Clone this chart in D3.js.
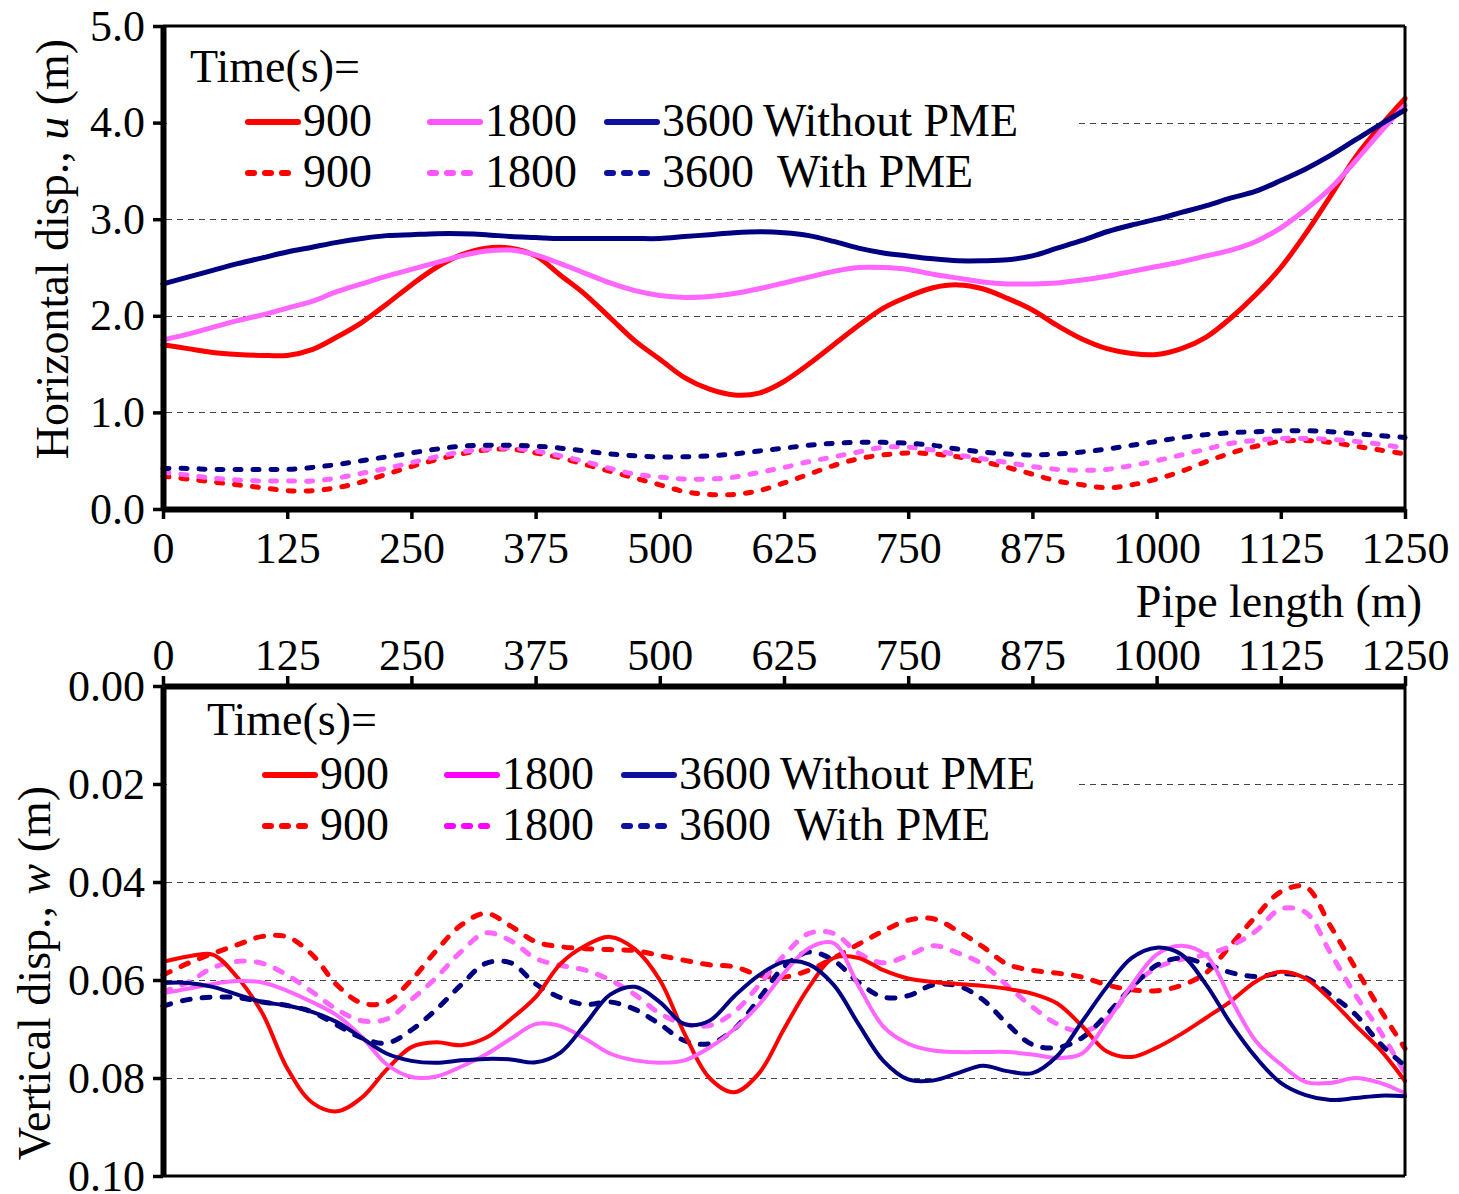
<!DOCTYPE html>
<html>
<head>
<meta charset="utf-8">
<script src="https://cdn.jsdelivr.net/npm/d3@7/dist/d3.min.js"></script>
<style>
  body { margin: 0; background: #fff; }
  svg { display: block; }
  text { font-family: "Liberation Serif", "Times New Roman", serif; fill: #000; }
</style>
</head>
<body>
<svg id="chart" width="1459" height="1194"></svg>
<script>

// Stations along the pipe (m)
const pipeX = [0, 25, 50, 75, 100, 125, 150, 175, 200, 225, 250, 275, 300, 325, 350, 375, 400, 425, 450, 475,
  500, 525, 550, 575, 600, 625, 650, 675, 700, 725, 750, 775, 800, 825, 850, 875, 900, 925, 950, 975,
  1000, 1025, 1050, 1075, 1100, 1125, 1150, 1175, 1200, 1225, 1250];

const xTicks = [0, 125, 250, 375, 500, 625, 750, 875, 1000, 1125, 1250];
const uTicks = [0, 1, 2, 3, 4, 5];
const wTicks = [0, 0.02, 0.04, 0.06, 0.08, 0.10];
const timeLabels = ["900", "1800", "3600"];

// Horizontal displacement u (m), without PME
const u900 = [1.70, 1.66, 1.62, 1.60, 1.59, 1.59, 1.65, 1.78, 1.93, 2.12, 2.32, 2.50, 2.63, 2.70, 2.70, 2.62, 2.42, 2.22, 1.98, 1.74,
  1.55, 1.36, 1.24, 1.18, 1.20, 1.32, 1.50, 1.70, 1.90, 2.08, 2.20, 2.29, 2.32, 2.28, 2.18, 2.06, 1.90, 1.76, 1.66, 1.61,
  1.60, 1.66, 1.78, 1.98, 2.22, 2.50, 2.85, 3.24, 3.64, 3.96, 4.25];
const u1800 = [1.75, 1.81, 1.88, 1.95, 2.01, 2.08, 2.15, 2.25, 2.33, 2.41, 2.48, 2.55, 2.62, 2.67, 2.68, 2.63, 2.54, 2.44, 2.34, 2.26,
  2.21, 2.19, 2.20, 2.23, 2.28, 2.34, 2.40, 2.46, 2.50, 2.50, 2.48, 2.43, 2.39, 2.35, 2.33, 2.33, 2.34, 2.37, 2.41, 2.46,
  2.51, 2.56, 2.62, 2.68, 2.77, 2.91, 3.10, 3.32, 3.60, 3.90, 4.18];
const u3600 = [2.33, 2.40, 2.47, 2.54, 2.60, 2.66, 2.71, 2.76, 2.80, 2.83, 2.84, 2.85, 2.85, 2.84, 2.82, 2.81, 2.80, 2.80, 2.80, 2.80,
  2.80, 2.82, 2.84, 2.86, 2.87, 2.86, 2.83, 2.77, 2.70, 2.65, 2.62, 2.59, 2.57, 2.57, 2.58, 2.62, 2.70, 2.78, 2.87, 2.94,
  3.00, 3.07, 3.14, 3.22, 3.29, 3.40, 3.52, 3.66, 3.82, 3.98, 4.13];
// Horizontal displacement u (m), with PME
const uPme900 = [0.34, 0.31, 0.28, 0.25, 0.22, 0.19, 0.19, 0.22, 0.28, 0.36, 0.44, 0.51, 0.57, 0.61, 0.62, 0.58, 0.53, 0.46, 0.39, 0.32,
  0.25, 0.18, 0.15, 0.15, 0.19, 0.27, 0.36, 0.45, 0.52, 0.56, 0.58, 0.57, 0.54, 0.49, 0.43, 0.36, 0.29, 0.25, 0.22, 0.25,
  0.31, 0.39, 0.49, 0.58, 0.65, 0.70, 0.71, 0.69, 0.65, 0.61, 0.57];
const uPme1800 = [0.38, 0.35, 0.32, 0.30, 0.29, 0.29, 0.29, 0.32, 0.37, 0.42, 0.48, 0.54, 0.59, 0.62, 0.63, 0.60, 0.55, 0.49, 0.42, 0.36,
  0.33, 0.31, 0.31, 0.33, 0.38, 0.43, 0.49, 0.54, 0.59, 0.64, 0.64, 0.61, 0.56, 0.52, 0.48, 0.44, 0.41, 0.40, 0.41, 0.45,
  0.50, 0.56, 0.62, 0.68, 0.71, 0.73, 0.73, 0.72, 0.70, 0.67, 0.63];
const uPme3600 = [0.42, 0.42, 0.41, 0.41, 0.41, 0.41, 0.43, 0.46, 0.50, 0.54, 0.58, 0.62, 0.65, 0.66, 0.66, 0.65, 0.63, 0.60, 0.57, 0.55,
  0.54, 0.54, 0.55, 0.57, 0.60, 0.63, 0.66, 0.68, 0.69, 0.69, 0.68, 0.66, 0.62, 0.59, 0.57, 0.56, 0.57, 0.59, 0.62, 0.66,
  0.70, 0.74, 0.77, 0.79, 0.80, 0.81, 0.81, 0.80, 0.78, 0.76, 0.74];

// Vertical displacement w (m), without PME
const w900 = [0.0563, 0.0552, 0.0548, 0.0595, 0.0668, 0.0780, 0.0850, 0.0868, 0.0840, 0.0783, 0.0737, 0.0727, 0.0733, 0.0718, 0.0680, 0.0635, 0.0567, 0.0530, 0.0512, 0.0537,
  0.0600, 0.0710, 0.0800, 0.0829, 0.0790, 0.0700, 0.0615, 0.0555, 0.0555, 0.0580, 0.0597, 0.0604, 0.0608, 0.0612, 0.0618, 0.0628, 0.0648, 0.0694, 0.0746, 0.0757,
  0.0738, 0.0710, 0.0677, 0.0643, 0.0603, 0.0583, 0.0597, 0.0640, 0.0692, 0.0742, 0.0806];
const w1800 = [0.0627, 0.0618, 0.0608, 0.0602, 0.0605, 0.0622, 0.0645, 0.0672, 0.0716, 0.0772, 0.0798, 0.0797, 0.0777, 0.0752, 0.0720, 0.0690, 0.0694, 0.0720, 0.0750, 0.0764,
  0.0769, 0.0764, 0.0738, 0.0700, 0.0650, 0.0586, 0.0535, 0.0525, 0.0612, 0.0695, 0.0730, 0.0744, 0.0747, 0.0747, 0.0747, 0.0752, 0.0759, 0.0750, 0.0685, 0.0610,
  0.0548, 0.0530, 0.0550, 0.0640, 0.0725, 0.0772, 0.0808, 0.0810, 0.0800, 0.0810, 0.0831];
const w3600 = [0.0606, 0.0606, 0.0614, 0.0630, 0.0645, 0.0652, 0.0665, 0.0686, 0.0718, 0.0750, 0.0765, 0.0769, 0.0764, 0.0761, 0.0762, 0.0768, 0.0748, 0.0690, 0.0630, 0.0614,
  0.0645, 0.0690, 0.0683, 0.0633, 0.0590, 0.0563, 0.0568, 0.0610, 0.0690, 0.0765, 0.0803, 0.0805, 0.0790, 0.0775, 0.0786, 0.0790, 0.0755, 0.0685, 0.0614, 0.0555,
  0.0534, 0.0548, 0.0610, 0.0690, 0.0758, 0.0810, 0.0835, 0.0845, 0.0841, 0.0836, 0.0837];
// Vertical displacement w (m), with PME
const wPme900 = [0.0590, 0.0566, 0.0546, 0.0528, 0.0511, 0.0512, 0.0548, 0.0610, 0.0647, 0.0645, 0.0600, 0.0540, 0.0488, 0.0464, 0.0490, 0.0522, 0.0532, 0.0536, 0.0538, 0.0540,
  0.0550, 0.0560, 0.0569, 0.0573, 0.0590, 0.0594, 0.0580, 0.0555, 0.0527, 0.0500, 0.0478, 0.0475, 0.0500, 0.0532, 0.0568, 0.0580, 0.0586, 0.0594, 0.0610, 0.0620,
  0.0622, 0.0611, 0.0585, 0.0528, 0.0470, 0.0420, 0.0410, 0.0490, 0.0575, 0.0660, 0.0740];
const wPme1800 = [0.0624, 0.0605, 0.0575, 0.0562, 0.0566, 0.0590, 0.0624, 0.0660, 0.0683, 0.0680, 0.0640, 0.0595, 0.0542, 0.0504, 0.0520, 0.0556, 0.0570, 0.0580, 0.0600, 0.0630,
  0.0668, 0.0690, 0.0693, 0.0665, 0.0610, 0.0550, 0.0505, 0.0505, 0.0545, 0.0565, 0.0550, 0.0530, 0.0545, 0.0568, 0.0612, 0.0655, 0.0690, 0.0705, 0.0680, 0.0615,
  0.0575, 0.0558, 0.0548, 0.0530, 0.0500, 0.0455, 0.0462, 0.0545, 0.0630, 0.0705, 0.0790];
const wPme3600 = [0.0653, 0.0640, 0.0635, 0.0636, 0.0645, 0.0652, 0.0665, 0.0692, 0.0718, 0.0729, 0.0702, 0.0660, 0.0610, 0.0566, 0.0565, 0.0608, 0.0636, 0.0650, 0.0645, 0.0660,
  0.0690, 0.0724, 0.0730, 0.0700, 0.0638, 0.0573, 0.0543, 0.0560, 0.0605, 0.0635, 0.0632, 0.0610, 0.0612, 0.0640, 0.0690, 0.0732, 0.0738, 0.0718, 0.0670, 0.0615,
  0.0570, 0.0555, 0.0568, 0.0585, 0.0593, 0.0587, 0.0595, 0.0630, 0.0670, 0.0730, 0.0775];

const red = "#ff0000", pink = "#ff66ff", navy = "#000080";

var svg = d3.select("svg#chart");

// Draws one panel: grid, curves, axes, frame and legend
function drawPanel(p) {

  var g = svg.append("g");

  var x = d3.scaleLinear().domain([0, 1250]).range([163, 1405]);
  var y = d3.scaleLinear().domain(p.yDomain).range(p.yRange);

  // dashed horizontal gridlines
  g.append("g").selectAll("line")
    .data(p.grid)
    .enter().append("line")
    .attr("x1", 166).attr("x2", 1405)
    .attr("y1", d => Math.round(y(d)) + 0.5)
    .attr("y2", d => Math.round(y(d)) + 0.5)
    .style("stroke", "#444")
    .style("stroke-width", 1)
    .style("stroke-dasharray", "6,5");

  // white legend box hides part of the top gridline
  g.append("rect")
    .attr("x", 167).attr("y", p.legendBox[0])
    .attr("width", 1078 - 167).attr("height", p.legendBox[1] - p.legendBox[0])
    .style("fill", "#fff");

  var line = d3.line()
    .x((d, i) => x(pipeX[i]))
    .y(d => y(d))
    .curve(d3.curveCatmullRom);

  g.append("g").selectAll("path")
    .data(p.series)
    .enter().append("path")
    .attr("d", d => line(d.values))
    .style("fill", "none")
    .style("stroke", d => d.color)
    .style("stroke-width", d => d.dashed ? p.dashWidth : p.solidWidth)
    .style("stroke-linecap", "round")
    .style("stroke-linejoin", "round")
    .style("stroke-dasharray", d => d.dashed ? p.dash : null);

  // y axis
  var yAxis = d3.axisLeft(y).tickValues(p.yTicks).tickFormat(d3.format(p.yFormat))
    .tickSize(10).tickSizeOuter(0).tickPadding(8);
  var ya = g.append("g").attr("transform", "translate(163,0)").call(yAxis);

  // x axis, below the top panel and above the bottom panel
  var xAxis = (p.xTop ? d3.axisTop(x) : d3.axisBottom(x))
    .tickValues(xTicks).tickFormat(d3.format("d"))
    .tickSize(10).tickSizeOuter(0).tickPadding(p.xTop ? 6 : 13);
  var xa = g.append("g").attr("transform", "translate(0," + p.xAt + ")").call(xAxis);

  [ya, xa].forEach(function(a) {
    a.attr("font-family", null);
    a.select(".domain").style("stroke", "#000").style("stroke-width", 6);
    a.selectAll(".tick line").style("stroke", "#000").style("stroke-width", 3.5);
    a.selectAll(".tick text").style("font-size", "44px")
      .style("font-family", "'Liberation Serif', 'Times New Roman', serif");
  });

  // thin frame on the other two sides
  g.append("line").attr("x1", 163).attr("x2", 1405)
    .attr("y1", p.frameY).attr("y2", p.frameY)
    .style("stroke", "#000").style("stroke-width", 3);
  g.append("line").attr("x1", 1405).attr("x2", 1405)
    .attr("y1", d3.min(p.yRange)).attr("y2", d3.max(p.yRange))
    .style("stroke", "#000").style("stroke-width", 3);

  // y axis title, rotated
  var yt = g.append("text")
    .attr("transform", "translate(" + p.yTitleX + "," + p.yTitleY + ") rotate(-90)")
    .attr("text-anchor", "middle")
    .style("font-size", "46px");
  yt.append("tspan").text(p.yTitle[0]);
  yt.append("tspan").style("font-style", "italic").text(p.yTitle[1]);
  yt.append("tspan").text(p.yTitle[2]);

  // legend
  var lx = p.legendX, ly = p.legendY;
  var lg = g.append("g");
  lg.append("text").attr("x", lx).attr("y", ly).style("font-size", "46px").text("Time(s)=");

  var colX = [58, 240, 417];
  var legendColors = [red, p.legendPink, "#1010a0"];
  [0, 1].forEach(function(row) {
    var rowY = ly + 40 + row * 51;
    timeLabels.forEach(function(t, i) {
      lg.append("line")
        .attr("x1", lx + colX[i]).attr("x2", lx + colX[i] + 50)
        .attr("y1", rowY).attr("y2", rowY)
        .style("stroke", legendColors[i])
        .style("stroke-width", 6)
        .style("stroke-linecap", "round")
        .style("stroke-dasharray", row == 1 ? "6,11" : null);
      lg.append("text")
        .attr("x", lx + colX[i] + 55).attr("y", rowY + 14)
        .style("font-size", "46px")
        .text(t);
    });
    lg.append("text")
      .attr("x", lx + (row == 0 ? 573 : 587)).attr("y", rowY + 14)
      .style("font-size", "46px")
      .text(row == 0 ? "Without PME" : "With PME");
  });
}

drawPanel({
  yDomain: [0, 5], yRange: [509, 26],
  yTicks: uTicks, yFormat: ".1f", grid: [1, 2, 3, 4],
  legendBox: [30, 200],
  series: [
    { values: u900, color: red }, { values: u1800, color: pink }, { values: u3600, color: navy },
    { values: uPme900, color: red, dashed: true }, { values: uPme1800, color: pink, dashed: true },
    { values: uPme3600, color: navy, dashed: true }
  ],
  solidWidth: 5, dashWidth: 5, dash: "6,12",
  xTop: false, xAt: 509, frameY: 26,
  yTitle: ["Horizontal disp., ", "u", " (m)"], yTitleX: 68, yTitleY: 249,
  legendX: 190, legendY: 82, legendPink: "#ff55ff"
});

drawPanel({
  yDomain: [0, 0.1], yRange: [686, 1176],
  yTicks: wTicks, yFormat: ".2f", grid: [0.02, 0.04, 0.06, 0.08],
  legendBox: [692, 860],
  series: [
    { values: wPme900, color: red, dashed: true }, { values: wPme1800, color: pink, dashed: true },
    { values: wPme3600, color: navy, dashed: true },
    { values: w900, color: red }, { values: w1800, color: pink }, { values: w3600, color: navy }
  ],
  solidWidth: 4, dashWidth: 5, dash: "8,12",
  xTop: true, xAt: 686, frameY: 1176,
  yTitle: ["Vertical disp., ", "w", " (m)"], yTitleX: 50, yTitleY: 973,
  legendX: 207, legendY: 735, legendPink: "#ff00ff"
});

// x axis title of the top panel
svg.append("text")
  .attr("x", 1422).attr("y", 617)
  .attr("text-anchor", "end")
  .style("font-size", "46px")
  .text("Pipe length (m)");

</script>
</body>
</html>
